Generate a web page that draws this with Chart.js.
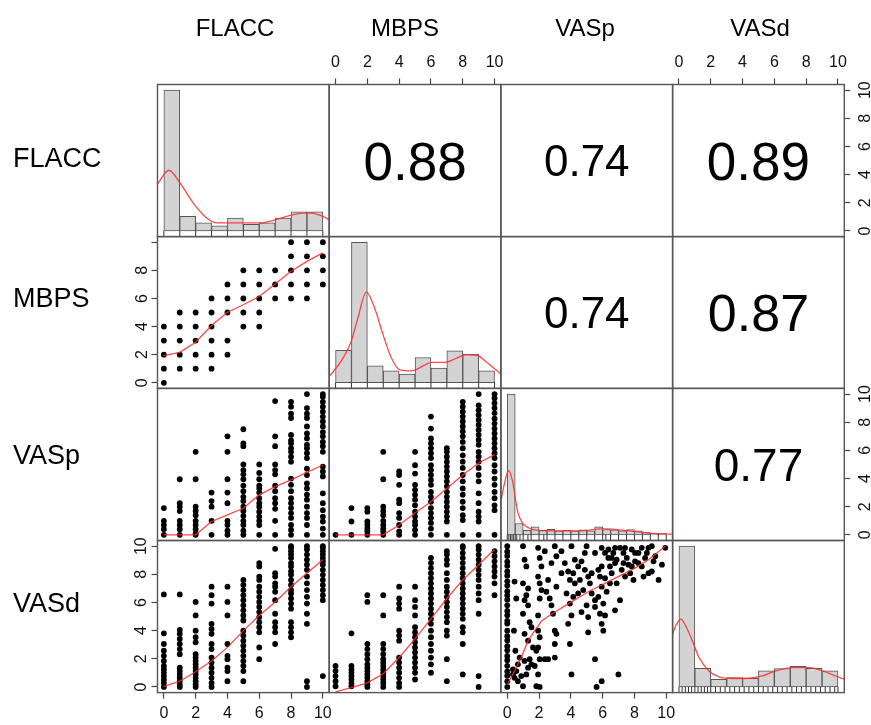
<!DOCTYPE html>
<html><head><meta charset="utf-8">
<script src="https://cdn.jsdelivr.net/npm/chart.js@4.4.1/dist/chart.umd.min.js"></script>
<style>
html,body{margin:0;padding:0;background:#fff;}
#wrap{position:relative;width:871px;height:725px;overflow:hidden;font-family:"Liberation Sans",Arial,Helvetica,sans-serif;}
#wrap canvas{position:absolute;left:0;top:0;}
.lbl{position:absolute;font-size:24px;color:#000;white-space:nowrap;line-height:1;}
.hdr{transform:translate(-50%,-50%);}
.row{transform:translate(0,-50%);font-size:27px;}
</style></head><body><div id="wrap"></div>
<script>
// ---------------- data ----------------
const varNames = ['FLACC', 'MBPS', 'VASp', 'VASd'];
const tickValues = [0, 2, 4, 6, 8, 10];
const axisMin = -0.4, axisMax = 10.4;

// correlation coefficients (upper panels)
const corrLabels = ['0.88', '0.74', '0.89', '0.74', '0.87', '0.77'];
const corrValues = [0.88, 0.74, 0.89, 0.74, 0.87, 0.77];
const corrRow = [0, 0, 0, 1, 1, 2];
const corrCol = [1, 2, 3, 2, 3, 3];

// histograms (heights scaled so the tallest bar = 10)
const flaccHistMids = [0.5, 1.5, 2.5, 3.5, 4.5, 5.5, 6.5, 7.5, 8.5, 9.5];
const flaccHist = [10, 1.04, 0.57, 0.36, 0.92, 0.47, 0.57, 0.92, 1.35, 1.35];
const mbpsHistMids = [0.5, 1.5, 2.5, 3.5, 4.5, 5.5, 6.5, 7.5, 8.5, 9.5];
const mbpsHist = [2.30, 10, 1.21, 0.85, 0.62, 1.80, 1.04, 2.27, 2.04, 0.85];
const vaspHistMids = [0.25, 0.75, 1.25, 1.75, 2.25, 2.75, 3.25, 3.75, 4.25, 4.75, 5.25, 5.75, 6.25, 6.75, 7.25, 7.75, 8.25, 8.75, 9.25, 9.75];
const vaspHist = [10, 0.81, 0.33, 0.57, 0.33, 0.40, 0.28, 0.33, 0.28, 0.36, 0.28, 0.57, 0.38, 0.36, 0.28, 0.38, 0.28, 0.17, 0.09, 0.09];
const vasdHistMids = [0.5, 1.5, 2.5, 3.5, 4.5, 5.5, 6.5, 7.5, 8.5, 9.5];
const vasdHist = [10, 1.33, 0.55, 0.67, 0.62, 1.14, 1.31, 1.47, 1.33, 1.14];

// density curves
const densFlaccX = [-0.38, 0.31, 1.04, 1.88, 2.62, 3.35, 5.03, 6.08, 6.91, 7.96, 9.01, 9.85, 10.4];
const densFlaccY = [3.36, 4.31, 3.36, 1.94, 1.0, 0.57, 0.57, 0.57, 0.76, 1.11, 1.28, 1.11, 0.8];
const densMbpsX = [-0.4, 0.34, 0.98, 1.40, 1.93, 2.46, 2.99, 3.52, 4.05, 4.79, 5.64, 6.06, 6.91, 7.54, 8.18, 8.92, 9.45, 10.08, 10.4];
const densMbpsY = [0.45, 1.52, 2.94, 4.60, 6.45, 5.31, 3.41, 1.75, 0.92, 0.85, 1.28, 1.45, 1.45, 1.71, 1.99, 1.94, 1.52, 0.92, 0.62];
const densVaspX = [-0.4, -0.19, 0.08, 0.33, 0.65, 0.96, 1.38, 2.43, 4.52, 6.0, 7.67, 8.92, 10.4];
const densVaspY = [2.38, 3.57, 4.57, 3.81, 1.67, 0.83, 0.48, 0.29, 0.29, 0.43, 0.29, 0.12, 0.05];
const densVasdX = [-0.41, -0.2, 0.11, 0.42, 0.84, 1.26, 1.89, 2.52, 3.36, 4.4, 5.24, 6.08, 7.13, 8.18, 9.02, 9.86, 10.38];
const densVasdY = [3.75, 4.35, 4.82, 4.35, 3.28, 2.09, 1.14, 0.71, 0.60, 0.62, 0.78, 1.14, 1.38, 1.38, 1.14, 0.78, 0.55];

// rug values
const flaccRug = [0, 1, 2, 3, 4, 5, 6, 7, 8, 9, 10];
const mbpsRug = [0, 1, 2, 3, 4, 5, 6, 7, 8, 9, 10];
const vaspRug = [0, 0.1, 0.2, 0.3, 0.4, 0.5, 0.6, 0.8, 1, 1.3, 1.5, 2, 2.3, 2.5, 3, 3.5, 4, 4.5, 5, 5.5, 6, 6.2, 6.5, 7, 7.5, 8, 8.5, 9, 9.5, 10];
const vasdRug = [0, 0.2, 0.4, 0.6, 0.8, 1, 1.2, 1.4, 1.6, 1.8, 2, 2.3, 2.6, 2.9, 3.2, 3.5, 3.8, 4.1, 4.4, 4.7, 5, 5.3, 5.6, 5.9, 6.2, 6.5, 6.8, 7.1, 7.4, 7.7, 8, 8.3, 8.6, 8.9, 9.2, 9.5, 9.8, 10];

// scatter: values of the row variable for each integer value (0..10) of the column variable
const mbpsByFlacc = [[0,1,2,3,4],[1,2,3,4,5],[1,2,3,4,5],[1,2,3,4,5,6],[2,3,5,6,7],[4,5,6,7,8],[4,5,6,7,8],[6,7,8],[6,7,8,9,10],[6,7,8,9,10],[7,8,9,10]];
const vaspByFlacc = [
 [1.9, 1.0, 0.7, 0.4, 0],
 [3.95, 2.25, 2.0, 1.7, 1.0, 0.7, 0.4, 0],
 [5.9, 3.95, 2.0, 1.7, 1.4, 1.0, 0.7, 0.4, 0.1, 0],
 [3.0, 2.4, 2.0, 1.0, 0],
 [7.0, 5.9, 3.95, 3.0, 2.25, 1.0, 0.7, 0.3, 0],
 [7.5, 6.5, 6.3, 5.0, 4.6, 4.3, 3.95, 3.5, 3.1, 2.7, 2.4, 2.0, 1.7, 1.35, 1.0, 0.7, 0.3, 0],
 [5.0, 4.4, 3.95, 3.5, 3.3, 3.0, 2.6, 2.25, 2.0, 1.65, 1.3, 1.0, 0.7, 0],
 [9.5, 7.0, 6.3, 5.0, 4.6, 4.3, 3.5, 3.1, 2.6, 2.25, 1.85, 1.0, 0],
 [9.45, 9.1, 8.6, 8.3, 7.1, 6.7, 6.5, 6.15, 5.9, 5.55, 5.2, 4.0, 3.55, 3.1, 2.6, 2.25, 1.9, 1.55, 1.2, 0.7, 0.35, 0],
 [10, 9.0, 8.6, 8.3, 7.7, 7.2, 6.85, 6.4, 6.15, 5.8, 5.45, 4.7, 4.25, 3.65, 3.3, 2.85, 2.5, 2.0, 1.55, 1.2, 0.7, 0],
 [10, 9.8, 9.45, 9.1, 8.75, 8.4, 8.05, 7.7, 7.3, 7.0, 6.6, 6.3, 5.9, 4.85, 4.5, 4.15, 2.95, 2.25, 1.75, 1.3, 0.95, 0.45, 0]
];
const vaspByMbps = [
 [0],
 [1.9, 0.95, 0],
 [1.9, 1.65, 0.95, 0.7, 0.45, 0.25, 0],
 [5.9, 3.95, 2.0, 1.7, 1.4, 1.0, 0.7, 0.45, 0.25, 0],
 [4.5, 4.25, 3.55, 2.5, 2.25, 1.55, 1.2, 0.7, 0.25, 0],
 [5.9, 4.95, 4.35, 3.55, 3.2, 2.85, 2.5, 2.1, 1.65, 1.3, 0.95, 0.7, 0.35, 0],
 [8.4, 7.55, 6.85, 6.5, 6.15, 5.8, 5.45, 4.95, 4.6, 4.25, 3.9, 3.55, 3.05, 2.7, 2.35, 1.9, 1.55, 1.2, 0.85, 0.45, 0],
 [6.15, 5.9, 5.55, 5.2, 4.85, 4.5, 4.15, 3.8, 3.45, 3.05, 2.7, 2.35, 2.0, 1.65, 1.3, 0.95, 0],
 [9.45, 9.1, 8.75, 8.4, 8.05, 7.7, 7.35, 7.0, 6.6, 6.15, 5.65, 5.2, 4.75, 4.25, 3.8, 3.3, 2.85, 2.35, 1.9, 1.4, 1.05, 0],
 [10, 9.2, 8.85, 8.5, 8.15, 7.8, 7.45, 7.1, 6.75, 6.4, 5.9, 5.55, 5.2, 4.75, 4.25, 3.8, 2.95, 2.25, 1.65, 1.3, 0.95, 0],
 [10, 9.7, 9.35, 9.0, 8.65, 8.25, 7.9, 7.55, 7.2, 6.85, 6.5, 6.15, 5.8, 5.45, 4.95, 4.5, 4.0, 3.55, 3.05, 2.6, 2.1, 1.75, 0]
];
const vasdByFlacc = [
 [6.57, 3.81, 3.05, 2.57, 2.21, 1.85, 1.49, 1.25, 1.01, 0.77, 0.53, 0.29, 0],
 [6.57, 4.05, 3.77, 3.41, 3.05, 2.69, 2.33, 1.37, 1.13, 0.89, 0.65, 0.41, 0.17, 0],
 [6.04, 5.08, 4.0, 3.53, 3.17, 2.33, 2.09, 1.85, 1.61, 1.37, 1.13, 0.89, 0.65, 0.41, 0.17, 0],
 [7.12, 6.52, 5.92, 4.48, 4.12, 3.77, 3.05, 2.69, 2.09, 1.73, 1.37, 1.01, 0.65, 0.29, 0],
 [7.12, 6.04, 5.08, 3.05, 2.21, 1.97, 1.37, 1.13, 0.41],
 [7.6, 7.24, 6.88, 6.52, 6.16, 5.8, 5.44, 5.08, 4.72, 4.0, 3.65, 3.29, 2.93, 2.57, 2.21, 1.85, 1.49, 1.13, 0.41],
 [8.8, 8.56, 7.84, 7.6, 7.12, 6.76, 6.4, 6.04, 5.68, 5.32, 4.96, 4.6, 4.24, 3.88, 2.81, 1.97],
 [9.81, 8.08, 7.84, 7.36, 7.12, 6.76, 6.16, 5.2, 4.6, 4.24, 3.88, 3.05],
 [10, 9.88, 9.64, 9.4, 9.16, 8.8, 8.56, 8.2, 7.96, 7.6, 7.24, 6.88, 6.64, 6.28, 5.92, 5.56, 4.6, 4.24, 3.88, 3.53],
 [10, 9.76, 9.4, 9.04, 8.68, 8.32, 7.84, 7.36, 6.88, 6.4, 5.92, 5.2, 4.48, 0.41, 0],
 [10, 9.88, 9.64, 9.4, 9.16, 8.92, 8.68, 8.32, 7.96, 7.6, 7.24, 6.88, 6.52, 6.16, 0.77]
];
const vasdByMbps = [
 [1.49, 1.13, 0.77, 0.41, 0.05],
 [3.81, 1.49, 1.25, 1.01, 0.77, 0.53, 0.29, 0.05],
 [6.52, 6.04, 3.05, 2.69, 2.33, 1.97, 1.61, 1.37, 1.13, 0.89, 0.65, 0.41, 0.17, 0],
 [6.52, 5.08, 3.05, 2.69, 2.33, 1.97, 1.73, 1.49, 1.25, 1.01, 0.77, 0.53, 0.29, 0],
 [7.12, 6.28, 5.92, 5.56, 4.0, 3.65, 3.29, 2.09, 1.73, 1.37, 1.01, 0.65, 0.29, 0],
 [7.12, 6.16, 5.68, 5.08, 4.24, 3.88, 3.53, 3.17, 2.81, 2.45, 2.09, 1.73, 1.37, 1.01, 0.53],
 [9.16, 8.8, 8.44, 8.08, 7.72, 7.36, 7.0, 6.64, 6.28, 5.92, 5.56, 5.2, 4.84, 4.48, 4.0, 3.53, 3.05, 2.57, 2.09, 1.61, 1.01],
 [9.64, 9.4, 9.04, 8.68, 8.08, 7.6, 7.12, 6.76, 6.4, 6.04, 5.68, 5.32, 4.96, 4.6, 4.0, 3.65, 1.97, 0.41],
 [10, 9.88, 9.52, 9.16, 8.8, 8.44, 8.08, 7.72, 7.36, 7.0, 6.64, 6.28, 5.92, 5.56, 5.2, 4.84, 4.24, 3.88, 3.05, 0.89],
 [10, 9.76, 9.4, 9.04, 8.68, 8.32, 7.96, 7.6, 7.12, 6.64, 6.16, 5.2, 0.77, 0],
 [9.64, 9.28, 8.92, 8.56, 8.2, 7.84, 7.36, 6.52]
];
// VASd vs VASp (continuous pairs)
const scatVasp = [0,0,0,0,0,0,0,0,0,0,0,0,0,0,0,0,0,0,0,0,0,0,0,0,0,0,0,0,0,
 0.46,0.57,0.42,0.51,0.67,0.46,0.57,0.78,0.88,0.99,0.67,0.36,1.09,1.2,1.31,1.52,0.36,
 0.99,1.09,1.2,0.99,1.31,1.2,1.09,1.31,0.99,1.41,1.52,1.09,1.31,1.62,1.83,1.41,1.73,
 1.94,2.04,2.15,1.94,2.04,2.15,2.04,1.94,1.94,2.04,1.94,2.04,1.94,2.04,1.83,
 2.36,2.57,2.46,2.67,2.78,2.88,2.99,3.09,2.99,2.36,2.57,2.99,3.09,2.78,3.09,
 3.41,3.62,3.83,4.04,4.15,3.94,3.73,4.15,3.94,4.04,3.83,3.94,4.04,4.25,
 4.46,4.67,4.88,4.99,5.09,5.2,4.78,5.31,5.52,4.99,4.67,5.09,5.52,5.62,5.31,4.57,
 5.73,5.94,6.15,6.36,6.57,5.83,6.15,6.46,5.94,6.25,5.73,6.04,5.52,5.83,6.15,5.94,6.04,5.94,6.67,6.78,6.57,6.46,
 6.88,7.09,7.31,7.52,7.62,7.83,8.04,7.2,7.41,7.09,6.88,7.73,7.94,6.99,6.78,
 8.25,8.46,8.67,8.88,9.09,9.2,9.31,9.52,9.73,9.94,8.88,9.09,8.57,
 5.52,6.36,6.78,7.41,8.04,8.46,8.78,8.25,7.83,7.31,5.94,4.88,4.25,2.99,3.41,4.46,5.09];
const scatVasd = [10,9.6,9.3,8.9,8.6,8.2,7.9,7.5,7.2,6.8,6.5,6.2,5.8,5.4,5.1,4.7,4.5,4.0,3.6,3.3,2.9,2.6,2.2,1.9,1.5,1.1,0.8,0.4,0,
 7.48,6.28,4.0,2.57,1.61,0.65,1.13,2.09,0.77,0.05,0.41,0.89,1.85,0.89,1.37,1.61,1.25,
 10.0,9.04,8.56,7.36,7.0,6.52,6.16,5.8,5.2,4.6,4.24,3.77,3.29,2.81,2.57,1.97,1.49,
 9.88,9.16,8.56,7.84,7.36,6.88,6.28,5.08,4.0,3.53,2.81,1.97,0.89,0,0.05,
 9.64,7.6,6.76,6.28,5.8,5.2,4.0,3.77,3.05,1.97,1.97,2.09,7.12,8.8,9.28,
 9.64,8.8,8.2,10.0,8.08,7.6,6.64,6.4,5.92,5.08,4.48,3.05,0.89,7.36,
 8.56,8.92,8.32,10.0,7.84,7.36,6.88,6.64,6.16,5.8,5.32,3.88,1.97,0,8.08,7.6,
 8.32,9.88,9.52,9.76,9.16,7.84,7.72,8.56,7.12,6.76,6.4,5.92,5.68,5.2,5.08,4.48,4.0,0.41,9.52,8.8,8.08,7.36,
 9.04,9.88,9.52,9.16,8.68,9.76,8.92,8.32,7.84,6.16,7.36,8.08,7.6,0.89,5.44,
 9.52,8.56,9.16,9.88,10.0,8.92,9.28,7.6,8.68,9.88,8.08,8.2,7.84,
 9.52,9.16,9.88,9.88,9.52,9.88,9.52,8.8,8.56,8.8,8.56,9.52,9.04,10.0,8.08,6.64,4.96];

// smoother (lowess) lines
const loessIntX = [0, 1, 2, 3, 4, 5, 6, 7, 8, 9, 10];
const loessMbpsFlacc = [1.93, 2.17, 2.88, 4.07, 5.02, 5.55, 6.14, 7.02, 7.93, 8.64, 9.24];
const loessVaspFlacc = [0, 0, 0, 0.95, 1.42, 1.89, 2.84, 3.43, 3.9, 4.44, 4.96];
const loessVaspMbps = [0, 0, 0, 0, 0.7, 1.55, 2.35, 3.3, 4.25, 5.1, 5.7];
const loessVasdFlacc = [0.05, 0.41, 1.08, 1.85, 2.81, 4.0, 5.08, 6.04, 7.12, 8.08, 9.04];
const loessVasdMbps = [-0.35, -0.05, 0.29, 0.94, 2.09, 3.41, 4.84, 6.28, 7.6, 8.68, 9.76];
const loessVasdVaspX = [0, 0.46, 0.88, 1.31, 1.73, 2.15, 2.99, 4.04, 5.09, 6.15, 7.2, 8.04, 8.88, 9.94];
const loessVasdVaspY = [0.17, 1.13, 2.09, 3.29, 4.0, 4.68, 5.32, 6.04, 6.76, 7.36, 7.96, 8.44, 9.04, 10.0];

// ---------------- layout / style ----------------
const W = 871, H = 725;
const FONT = '"Liberation Sans", Arial, Helvetica, sans-serif';
const colEdges = [157.5, 329.2, 500.9, 672.6, 844.3];
const rowEdges = [84.5, 236.6, 388.4, 540.5, 692.6];
const AX = { top: 30, bottom: 30, left: 40, right: 26 };
const RED = 'rgba(255,40,40,0.85)';
const RUG_LEVEL = -0.2;
const wrap = document.getElementById('wrap');

const framePlugin = {
  id: 'frame',
  afterDraw(chart) {
    const a = chart.chartArea, ctx = chart.ctx;
    ctx.save();
    ctx.strokeStyle = '#555'; ctx.lineWidth = 1.4;
    ctx.strokeRect(a.left, a.top, a.right - a.left, a.bottom - a.top);
    ctx.restore();
  }
};
const corrPlugin = {
  id: 'corr',
  afterDraw(chart, args, o) {
    if (!o || !o.text) return;
    const a = chart.chartArea, ctx = chart.ctx;
    ctx.save();
    ctx.font = o.size + 'px ' + FONT;
    ctx.fillStyle = '#000'; ctx.textAlign = 'center'; ctx.textBaseline = 'alphabetic';
    ctx.fillText(o.text, (a.left + a.right) / 2, (a.top + a.bottom) / 2 + 0.36 * o.size);
    ctx.restore();
  }
};

function scaleCfg(isX, pos, tickPad, hideTen) {
  return {
    type: 'linear', min: axisMin, max: axisMax, display: !!pos, offset: false,
    position: pos || (isX ? 'bottom' : 'left'),
    afterBuildTicks: s => { s.ticks = tickValues.map(v => ({ value: v })); },
    afterFit: s => { if (pos) { if (isX) s.height = AX[pos]; else s.width = AX[pos]; } },
    grid: { display: true, offset: false, drawOnChartArea: false, drawTicks: true, tickLength: 6, tickColor: '#444', tickWidth: 1.2 },
    border: { display: false },
    ticks: {
      autoSkip: false, padding: tickPad || 0, color: '#111',
      font: { family: FONT, size: 16 },
      minRotation: isX ? 0 : 90, maxRotation: isX ? 0 : 90,
      crossAlign: isX ? 'near' : 'center',
      callback: v => (hideTen && v === 10) ? '' : String(v)
    }
  };
}

function addPanel(r, c, datasets, opt) {
  opt = opt || {};
  const ax = opt.axes || {};
  const cv = document.createElement('canvas');
  cv.width = W; cv.height = H; wrap.appendChild(cv);
  const padding = {
    left: colEdges[c] - (ax.y === 'left' ? AX.left : 0),
    right: W - colEdges[c + 1] - (ax.y === 'right' ? AX.right : 0),
    top: rowEdges[r] - (ax.x === 'top' ? AX.top : 0),
    bottom: H - rowEdges[r + 1] - (ax.x === 'bottom' ? AX.bottom : 0)
  };
  new Chart(cv, {
    type: 'scatter',
    data: { datasets },
    options: {
      responsive: false, animation: false, events: [],
      layout: { padding },
      plugins: { legend: { display: false }, tooltip: { enabled: false },
                 corr: { text: opt.corrText, size: opt.corrSize } },
      scales: { x: scaleCfg(true, ax.x, ax.xPad), y: scaleCfg(false, ax.y, ax.yPad, ax.hideTen) }
    },
    plugins: [framePlugin, corrPlugin]
  });
}

function histSets(mids, heights, dx, dy, rug) {
  return [
    { type: 'line', data: dx.map((x, i) => ({ x, y: dy[i] })), borderColor: RED, borderWidth: 1.3,
      pointRadius: 0, cubicInterpolationMode: 'monotone', order: 0 },
    { type: 'scatter', data: rug.map(x => ({ x, y: RUG_LEVEL })), pointStyle: 'line', rotation: 90,
      pointRadius: 3, borderColor: '#333', pointBorderColor: '#333', borderWidth: 1, order: 1 },
    { type: 'bar', data: mids.map((x, i) => ({ x, y: heights[i] })), backgroundColor: '#d3d3d3',
      borderColor: '#555', borderWidth: 1, borderSkipped: false, barPercentage: 1, categoryPercentage: 1, order: 2 }
  ];
}
function colPoints(cols) {
  const pts = [];
  cols.forEach((ys, i) => ys.forEach(y => pts.push({ x: i, y })));
  return pts;
}
function scatterSets(points, lx, ly) {
  return [
    { type: 'line', data: lx.map((x, i) => ({ x, y: ly[i] })), borderColor: RED, borderWidth: 1.3,
      pointRadius: 0, tension: 0, order: 0 },
    { type: 'scatter', data: points, pointRadius: 2.9, backgroundColor: '#000', pointBackgroundColor: '#000',
      borderWidth: 0, order: 1 }
  ];
}

// diagonal
addPanel(0, 0, histSets(flaccHistMids, flaccHist, densFlaccX, densFlaccY, flaccRug));
addPanel(1, 1, histSets(mbpsHistMids, mbpsHist, densMbpsX, densMbpsY, mbpsRug));
addPanel(2, 2, histSets(vaspHistMids, vaspHist, densVaspX, densVaspY, vaspRug));
addPanel(3, 3, histSets(vasdHistMids, vasdHist, densVasdX, densVasdY, vasdRug));

// lower panels
addPanel(1, 0, scatterSets(colPoints(mbpsByFlacc), loessIntX, loessMbpsFlacc), { axes: { y: 'left', yPad: 4, hideTen: true } });
addPanel(2, 0, scatterSets(colPoints(vaspByFlacc), loessIntX, loessVaspFlacc));
addPanel(2, 1, scatterSets(colPoints(vaspByMbps), loessIntX, loessVaspMbps));
addPanel(3, 0, scatterSets(colPoints(vasdByFlacc), loessIntX, loessVasdFlacc), { axes: { y: 'left', yPad: 1, x: 'bottom', xPad: 5 } });
addPanel(3, 1, scatterSets(colPoints(vasdByMbps), loessIntX, loessVasdMbps));
addPanel(3, 2, scatterSets(scatVasp.map((x, i) => ({ x, y: scatVasd[i] })), loessVasdVaspX, loessVasdVaspY), { axes: { x: 'bottom', xPad: 5 } });

// upper panels with correlation text
const upperAxes = { '0,1': { x: 'top', xPad: 6 }, '0,3': { x: 'top', xPad: 6, y: 'right', yPad: 6 }, '2,3': { y: 'right', yPad: 6 } };
corrLabels.forEach((t, i) => {
  const r = corrRow[i], c = corrCol[i];
  addPanel(r, c, [], { corrText: t, corrSize: Math.round(60 * Math.abs(corrValues[i])), axes: upperAxes[r + ',' + c] });
});

// variable names
const headerX = [235, 405, 585, 760];
const rowLabelY = [158, 298, 455, 603];
varNames.forEach((n, i) => {
  const h = document.createElement('div');
  h.className = 'lbl hdr'; h.textContent = n;
  h.style.left = headerX[i] + 'px'; h.style.top = '28px';
  wrap.appendChild(h);
  const rl = document.createElement('div');
  rl.className = 'lbl row'; rl.textContent = n;
  rl.style.left = '13px'; rl.style.top = rowLabelY[i] + 'px';
  wrap.appendChild(rl);
});
</script></body></html>
